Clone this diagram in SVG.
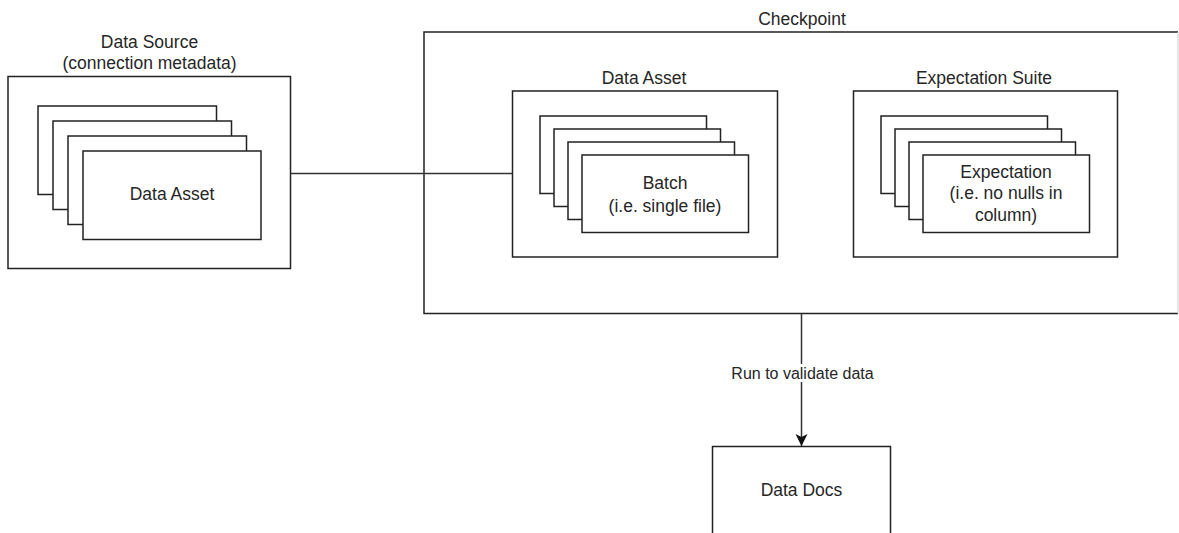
<svg xmlns="http://www.w3.org/2000/svg" width="1179" height="533" viewBox="0 0 1179 533">
  <style>
    .box { fill: #ffffff; stroke: #222222; stroke-width: 1.5; }
    .card { fill: #ffffff; stroke: #222222; stroke-width: 1.5; }
    .lbl { font-family: "Liberation Sans", Arial, sans-serif; font-size: 17.5px; fill: #262626; text-anchor: middle; }
    .edge-lbl { font-family: "Liberation Sans", Arial, sans-serif; font-size: 16px; fill: #262626; text-anchor: middle; }
    .wire { fill: none; stroke: #333333; stroke-width: 1.5; }
  </style>
  <defs>
    <marker id="arrow" markerWidth="14" markerHeight="14" refX="12" refY="6" orient="auto" markerUnits="userSpaceOnUse">
      <path d="M0,0 L12,6 L0,12 L3,6 Z" fill="#111111"/>
    </marker>
  </defs>
  <rect x="0" y="0" width="1179" height="533" fill="#ffffff"/>

  <!-- Data Source with its stack of data assets -->
  <g id="data-source">
    <rect class="box" x="8" y="76.5" width="282.5" height="192"/>
    <text class="lbl" x="149.5" y="47.5">Data Source</text>
    <text class="lbl" x="149.5" y="69">(connection metadata)</text>
    <rect class="card" x="38" y="106" width="178.5" height="88.5"/>
    <rect class="card" x="53" y="121" width="178.5" height="88.5"/>
    <rect class="card" x="68" y="136" width="178.5" height="88.5"/>
    <rect class="card" x="83" y="151" width="178" height="88.5"/>
    <text class="lbl" x="172" y="200">Data Asset</text>
  </g>

  <!-- Checkpoint container -->
  <g id="checkpoint">
    <path d="M1178,32 L424,32 L424,313.5 L1178,313.5" fill="#ffffff" stroke="#222222" stroke-width="1.5"/>
    <line x1="1178" y1="32" x2="1178" y2="313.5" stroke="#d6d6d6" stroke-width="1.2"/>
    <text class="lbl" x="802" y="24.5">Checkpoint</text>
  </g>

  <!-- Data Asset holding batches -->
  <g id="data-asset">
    <rect class="box" x="512.5" y="91" width="265" height="166"/>
    <text class="lbl" x="644" y="83.5">Data Asset</text>
    <rect class="card" x="540" y="116" width="166.5" height="77.5"/>
    <rect class="card" x="554" y="129" width="166.5" height="77.5"/>
    <rect class="card" x="568" y="142" width="166.5" height="77.5"/>
    <rect class="card" x="582" y="155" width="166.5" height="77.5"/>
    <text class="lbl" x="665" y="189">Batch</text>
    <text class="lbl" x="665" y="212">(i.e. single file)</text>
  </g>

  <!-- Expectation Suite holding expectations -->
  <g id="expectation-suite">
    <rect class="box" x="853.5" y="91" width="264" height="166"/>
    <text class="lbl" x="984" y="83.5">Expectation Suite</text>
    <rect class="card" x="881" y="116" width="166.5" height="77.5"/>
    <rect class="card" x="895" y="129" width="166.5" height="77.5"/>
    <rect class="card" x="909" y="142" width="166.5" height="77.5"/>
    <rect class="card" x="923" y="155" width="166.5" height="77.5"/>
    <text class="lbl" x="1006" y="177.5">Expectation</text>
    <text class="lbl" x="1006" y="199">(i.e. no nulls in</text>
    <text class="lbl" x="1006" y="220.5">column)</text>
  </g>

  <!-- Data Docs output -->
  <g id="data-docs">
    <rect class="box" x="712.5" y="446.5" width="178" height="90"/>
    <text class="lbl" x="801.5" y="496">Data Docs</text>
  </g>

  <!-- Connectors -->
  <g id="connectors">
    <line class="wire" x1="290.5" y1="173.5" x2="512.5" y2="173.5"/>
    <line class="wire" x1="801.5" y1="313.5" x2="801.5" y2="446" marker-end="url(#arrow)"/>
    <rect x="728" y="364" width="149" height="18" fill="#ffffff"/>
    <text class="edge-lbl" x="802.5" y="378.5">Run to validate data</text>
  </g>
</svg>
